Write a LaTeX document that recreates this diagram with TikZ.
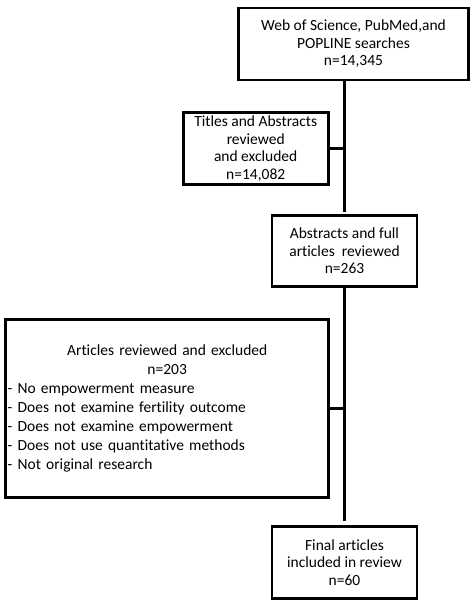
\documentclass[tikz,border=0pt]{standalone}
\usepackage{fontspec}
\setmainfont{Carlito}[Ligatures=CommonOff]
\usepackage{tikz}
\usetikzlibrary{positioning}

\begin{document}
\begin{tikzpicture}[node distance=30pt and 30pt,
    stage/.style={rectangle,draw,line width=2.6pt,align=center,inner sep=2pt,minimum width=145pt,minimum height=72pt},
    link/.style={line width=2.6pt}]
  \fontsize{15.5pt}{17.5pt}\selectfont
  \useasboundingbox (0,0) rectangle (473pt,-600pt);

  \node[stage,minimum width=230pt] (search) at (353.5pt,-44pt) {Web of Science, PubMed,and\\POPLINE searches\\n=14,345};
  \node[stage] (titles) [below=30pt of search.south west, xshift=18.5pt] {Titles and Abstracts\\reviewed\\and excluded\\n=14,082};
  \node[stage,minimum height=71pt] (abstracts) [below=133pt of search, xshift=-9pt] {Abstracts and full\\articles\ \ reviewed\\n=263};
  \node[stage,minimum width=323pt,minimum height=178pt,text width=319pt,align=left,inner xsep=1pt,
        font=\fontsize{15.5pt}{19pt}\selectfont] (excluded) [below=30pt of abstracts.south west, xshift=-103.5pt]
    {{\centering Articles reviewed and excluded\\n=203\par}
     - No empowerment measure\\
     - Does not examine fertility outcome\\
     - Does not examine empowerment\\
     - Does not use quantitative methods\\
     - Not original research\\[8pt]};
  \node[stage] (final) [below=237pt of abstracts] {Final articles\\included in review\\n=60};

  \draw[link, shorten >=2pt] (search.south -| abstracts) -- (abstracts);
  \draw[link] (titles) -- (titles -| abstracts);
  \draw[link, shorten >=4pt] (abstracts) -- (final);
  \draw[link] (excluded) -- (excluded -| abstracts);
\end{tikzpicture}
\end{document}
